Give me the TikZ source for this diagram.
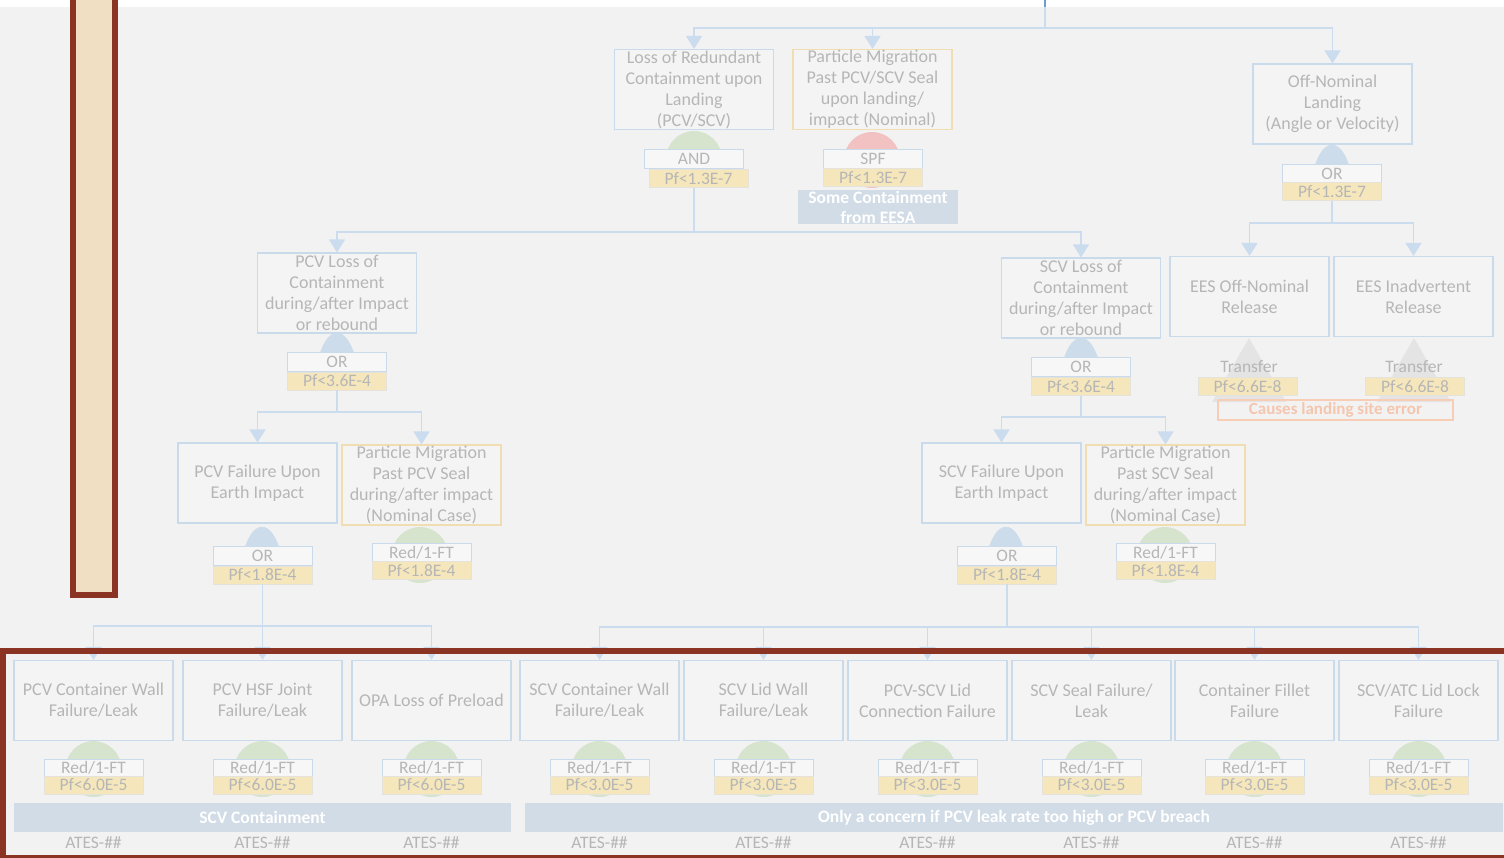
\documentclass[tikz,border=0pt]{standalone}
\usepackage{fontspec}
\setmainfont{Carlito}
\usetikzlibrary{arrows.meta}

\definecolor{bgray}{HTML}{F2F2F2}
\definecolor{boxblue}{HTML}{C9DAEB}
\definecolor{wireblue}{HTML}{CADCED}
\definecolor{txtgray}{HTML}{B6B6B6}
\definecolor{tanline}{HTML}{F1DDB2}
\definecolor{pfyellow}{HTML}{F5E7BB}
\definecolor{pfline}{HTML}{E4E2DA}
\definecolor{greengate}{HTML}{D6E4CD}
\definecolor{redgate}{HTML}{F2C1C1}
\definecolor{bluegate}{HTML}{CDDCEA}
\definecolor{bandfill}{HTML}{D1DCE6}
\definecolor{eesafill}{HTML}{C8D5E3}
\definecolor{orangeline}{HTML}{F7CDB5}
\definecolor{orangetxt}{HTML}{F5C6AE}
\definecolor{framered}{HTML}{8B3424}
\definecolor{tanfill}{HTML}{F1DFC4}
\definecolor{topblue}{HTML}{6A9FD6}
\definecolor{transgray}{HTML}{E4E4E4}
\definecolor{boxfill}{HTML}{F4F4F5}
\definecolor{gatefill}{HTML}{F7F7F7}

% OR gate body: a bell standing on the gate label
\newcommand{\bellgate}[2]{%
  \fill[bluegate] (#1-18,#2+4) .. controls (#1-9,#2-27) and (#1+9,#2-27) .. (#1+18,#2+4) -- cycle;}

\begin{document}
\begin{tikzpicture}[x=1pt,y=-1pt,
  evbox/.style={draw=boxblue, line width=1.2pt, fill=boxfill, minimum width=159pt,
    minimum height=80pt, inner sep=0pt, align=center, text=txtgray,
    font=\fontsize{18}{21}\selectfont},
  tanbox/.style={evbox, draw=tanline},
  gatebox/.style={draw=boxblue, line width=1pt, fill=gatefill, minimum width=99pt,
    minimum height=19pt, inner sep=0pt, text=txtgray, font=\fontsize{17.5}{19}\selectfont},
  pfbox/.style={draw=pfline, line width=0.8pt, fill=pfyellow, minimum width=99pt,
    minimum height=18pt, inner sep=0pt, text=txtgray, font=\fontsize{17.5}{19}\selectfont},
  plainlbl/.style={inner sep=0pt, text=txtgray, font=\fontsize{17.5}{19}\selectfont},
  band/.style={fill=bandfill, inner sep=0pt, text=white, font=\fontsize{17.5}{20}\selectfont\bfseries},
  wire/.style={draw=wireblue, line width=1.6pt},
  arr/.style={wire, -{Triangle[width=16pt,length=13pt]}},
  ateslbl/.style={inner sep=0pt, text=txtgray, font=\fontsize{17.5}{20}\selectfont}
]
\useasboundingbox (0,0) rectangle (1504,857);
\clip (0,0) rectangle (1504,857);
\fill[white] (0,0) rectangle (1504,857);
\fill[bgray] (0,7) rectangle (1504,857);

% ---------- gate symbols (behind the labels) ----------
\fill[greengate] (694,159) circle (28);
\fill[redgate] (872,160) circle (28);
\bellgate{1332}{164}
\bellgate{337}{352}
\bellgate{1081}{357}
\bellgate{262}{546}
\bellgate{1006}{546}
\fill[greengate] (420,555) circle (28);
\fill[greengate] (1165,555) circle (28);
\fill[transgray] (1249,338) -- (1212,402) -- (1286,402) -- cycle;
\fill[transgray] (1414,338) -- (1377,402) -- (1451,402) -- cycle;
\foreach \cx in {93.5,262.5,431.5,599.5,763.5,927.5,1091.5,1254.5,1418.5}
  \fill[greengate] (\cx,769) circle (28);

% ---------- top level ----------
\node[evbox] (A) at (694,89.5) {Loss of Redundant\\Containment upon\\Landing\\(PCV/SCV)};
\node[tanbox] (B) at (872.5,89.5) {Particle Migration\\Past PCV/SCV Seal\\upon landing/\\impact (Nominal)};
\node[evbox] (C) at (1332.5,104) {Off-Nominal\\Landing\\(Angle or Velocity)};

\node[gatebox] (Aand) at (694,159) {AND};
\node[pfbox] (Apf) at (698.5,178.5) {Pf<1.3E-7};
\node[gatebox] (Bspf) at (873,158.5) {SPF};
\node[pfbox] (Bpf) at (873,177.5) {Pf<1.3E-7};
\node[band, minimum width=160pt, minimum height=34pt, align=center,
  font=\fontsize{17.5}{20}\selectfont\bfseries] (eesa) at (878,207) {Some Containment\\from EESA};
\node[gatebox] (Cor) at (1332,173.5) {OR};
\node[pfbox] (Cpf) at (1332,191.5) {Pf<1.3E-7};

% ---------- EES branch ----------
\node[evbox] (E1) at (1249.5,296.5) {EES Off-Nominal\\Release};
\node[evbox] (E2) at (1413.5,296.5) {EES Inadvertent\\Release};
\node[plainlbl] (E1t) at (1249,367) {Transfer};
\node[pfbox] (E1pf) at (1247.5,386.5) {Pf<6.6E-8};
\node[plainlbl] (E2t) at (1414,367) {Transfer};
\node[pfbox] (E2pf) at (1415,386.5) {Pf<6.6E-8};
\node[draw=orangeline, line width=1.2pt, minimum width=235pt, minimum height=20pt,
  inner sep=0pt, text=orangetxt, font=\fontsize{17}{19}\selectfont\bfseries] (site) at (1335.5,410) {Causes landing site error};

% ---------- PCV branch ----------
\node[evbox] (PL) at (337,293) {PCV Loss of\\Containment\\during/after Impact\\or rebound};
\node[gatebox] (PLor) at (337,362) {OR};
\node[pfbox] (PLpf) at (337,381) {Pf<3.6E-4};
\node[evbox] (PF) at (257.5,483) {PCV Failure Upon\\Earth Impact};
\node[tanbox] (PM1) at (421.5,485) {Particle Migration\\Past PCV Seal\\during/after impact\\(Nominal Case)};
\node[gatebox] (PFor) at (262.5,556) {OR};
\node[pfbox] (PFpf) at (262.5,575) {Pf<1.8E-4};
\node[gatebox] (PM1g) at (421.5,553) {Red/1-FT};
\node[pfbox] (PM1pf) at (421.5,570.5) {Pf<1.8E-4};

% ---------- SCV branch ----------
\node[evbox] (SL) at (1081,298) {SCV Loss of\\Containment\\during/after Impact\\or rebound};
\node[gatebox] (SLor) at (1081,367) {OR};
\node[pfbox] (SLpf) at (1081,386.5) {Pf<3.6E-4};
\node[evbox] (SF) at (1001.5,483) {SCV Failure Upon\\Earth Impact};
\node[tanbox] (PM2) at (1165.5,485) {Particle Migration\\Past SCV Seal\\during/after impact\\(Nominal Case)};
\node[gatebox] (SFor) at (1007,556) {OR};
\node[pfbox] (SFpf) at (1007,575) {Pf<1.8E-4};
\node[gatebox] (PM2g) at (1165.5,553) {Red/1-FT};
\node[pfbox] (PM2pf) at (1165.5,570.5) {Pf<1.8E-4};

% ---------- basic events ----------
\foreach \n/\cx/\txt/\pf in {
  1/93.5/{PCV Container Wall\\Failure/Leak}/6.0E-5,
  2/262.5/{PCV HSF Joint\\Failure/Leak}/6.0E-5,
  3/431.5/{OPA Loss of Preload}/6.0E-5,
  4/599.5/{SCV Container Wall\\Failure/Leak}/3.0E-5,
  5/763.5/{SCV Lid Wall\\Failure/Leak}/3.0E-5,
  6/927.5/{PCV-SCV Lid\\Connection Failure}/3.0E-5,
  7/1091.5/{SCV Seal Failure/\\Leak}/3.0E-5,
  8/1254.5/{Container Fillet\\Failure}/3.0E-5,
  9/1418.5/{SCV/ATC Lid Lock\\Failure}/3.0E-5}{
  \node[evbox] (L\n) at (\cx,700.5) {\txt};
  \node[gatebox, minimum height=17pt] (L\n g) at (\cx,767.5) {Red/1-FT};
  \node[pfbox] (L\n pf) at (\cx,785) {Pf<\pf};
  \node[ateslbl] (L\n id) at (\cx,843) {ATES-\#\#};
}
\node[band, minimum width=497pt, minimum height=29pt] (scvband) at (262.5,817.5) {SCV Containment};
\node[band, minimum width=978pt, minimum height=29pt] (pcvband) at (1014,817.5) {Only a concern if PCV leak rate too high or PCV breach};

% ---------- connectors ----------
\coordinate (t0) at (1045,0);
\coordinate (t1) at (1045,7);
\coordinate (j0) at (1045,28);
\draw[wire] (t0) -- (j0);
\draw[draw=topblue, line width=2.4pt] (t0) -- (t1);
\draw[arr] (j0) -| (A.north);
\draw[arr] (j0) -| (B.north);
\draw[arr] (j0) -| (C.north);

\coordinate (ja) at (694,232);
\draw[wire] (Apf.south -| Aand.center) -- (ja);
\draw[arr] (ja) -| (PL.north);
\draw[arr] (ja) -| (SL.north);

\coordinate (jc) at (1332,223);
\draw[wire] (Cpf.south) -- (jc);
\draw[arr] (jc) -| (E1.north);
\draw[arr] (jc) -| (E2.north);

\coordinate (jp) at (337,412);
\draw[wire] (PLpf.south) -- (jp);
\draw[arr] (jp) -| (PF.north);
\draw[arr] (jp) -| (PM1.north);

\coordinate (js) at (1081,417);
\draw[wire] (SLpf.south) -- (js);
\draw[arr] (js) -| (SF.north);
\draw[arr] (js) -| (PM2.north);

\coordinate (jpf) at (262.5,626);
\draw[wire] (PFpf.south) -- (jpf);
\foreach \n in {1,2,3} \draw[arr] (jpf) -| (L\n.north);

\coordinate (jsf) at (1007,627);
\draw[wire] (SFpf.south) -- (jsf);
\foreach \n in {4,5,6,7,8,9} \draw[arr] (jsf) -| (L\n.north);

% ---------- highlight frames ----------
\draw[framered, line width=6pt, fill=tanfill] (73,-10) rectangle (115,595);
\draw[framered, line width=6pt] (3,651) rectangle (1512,858);
\end{tikzpicture}
\end{document}
